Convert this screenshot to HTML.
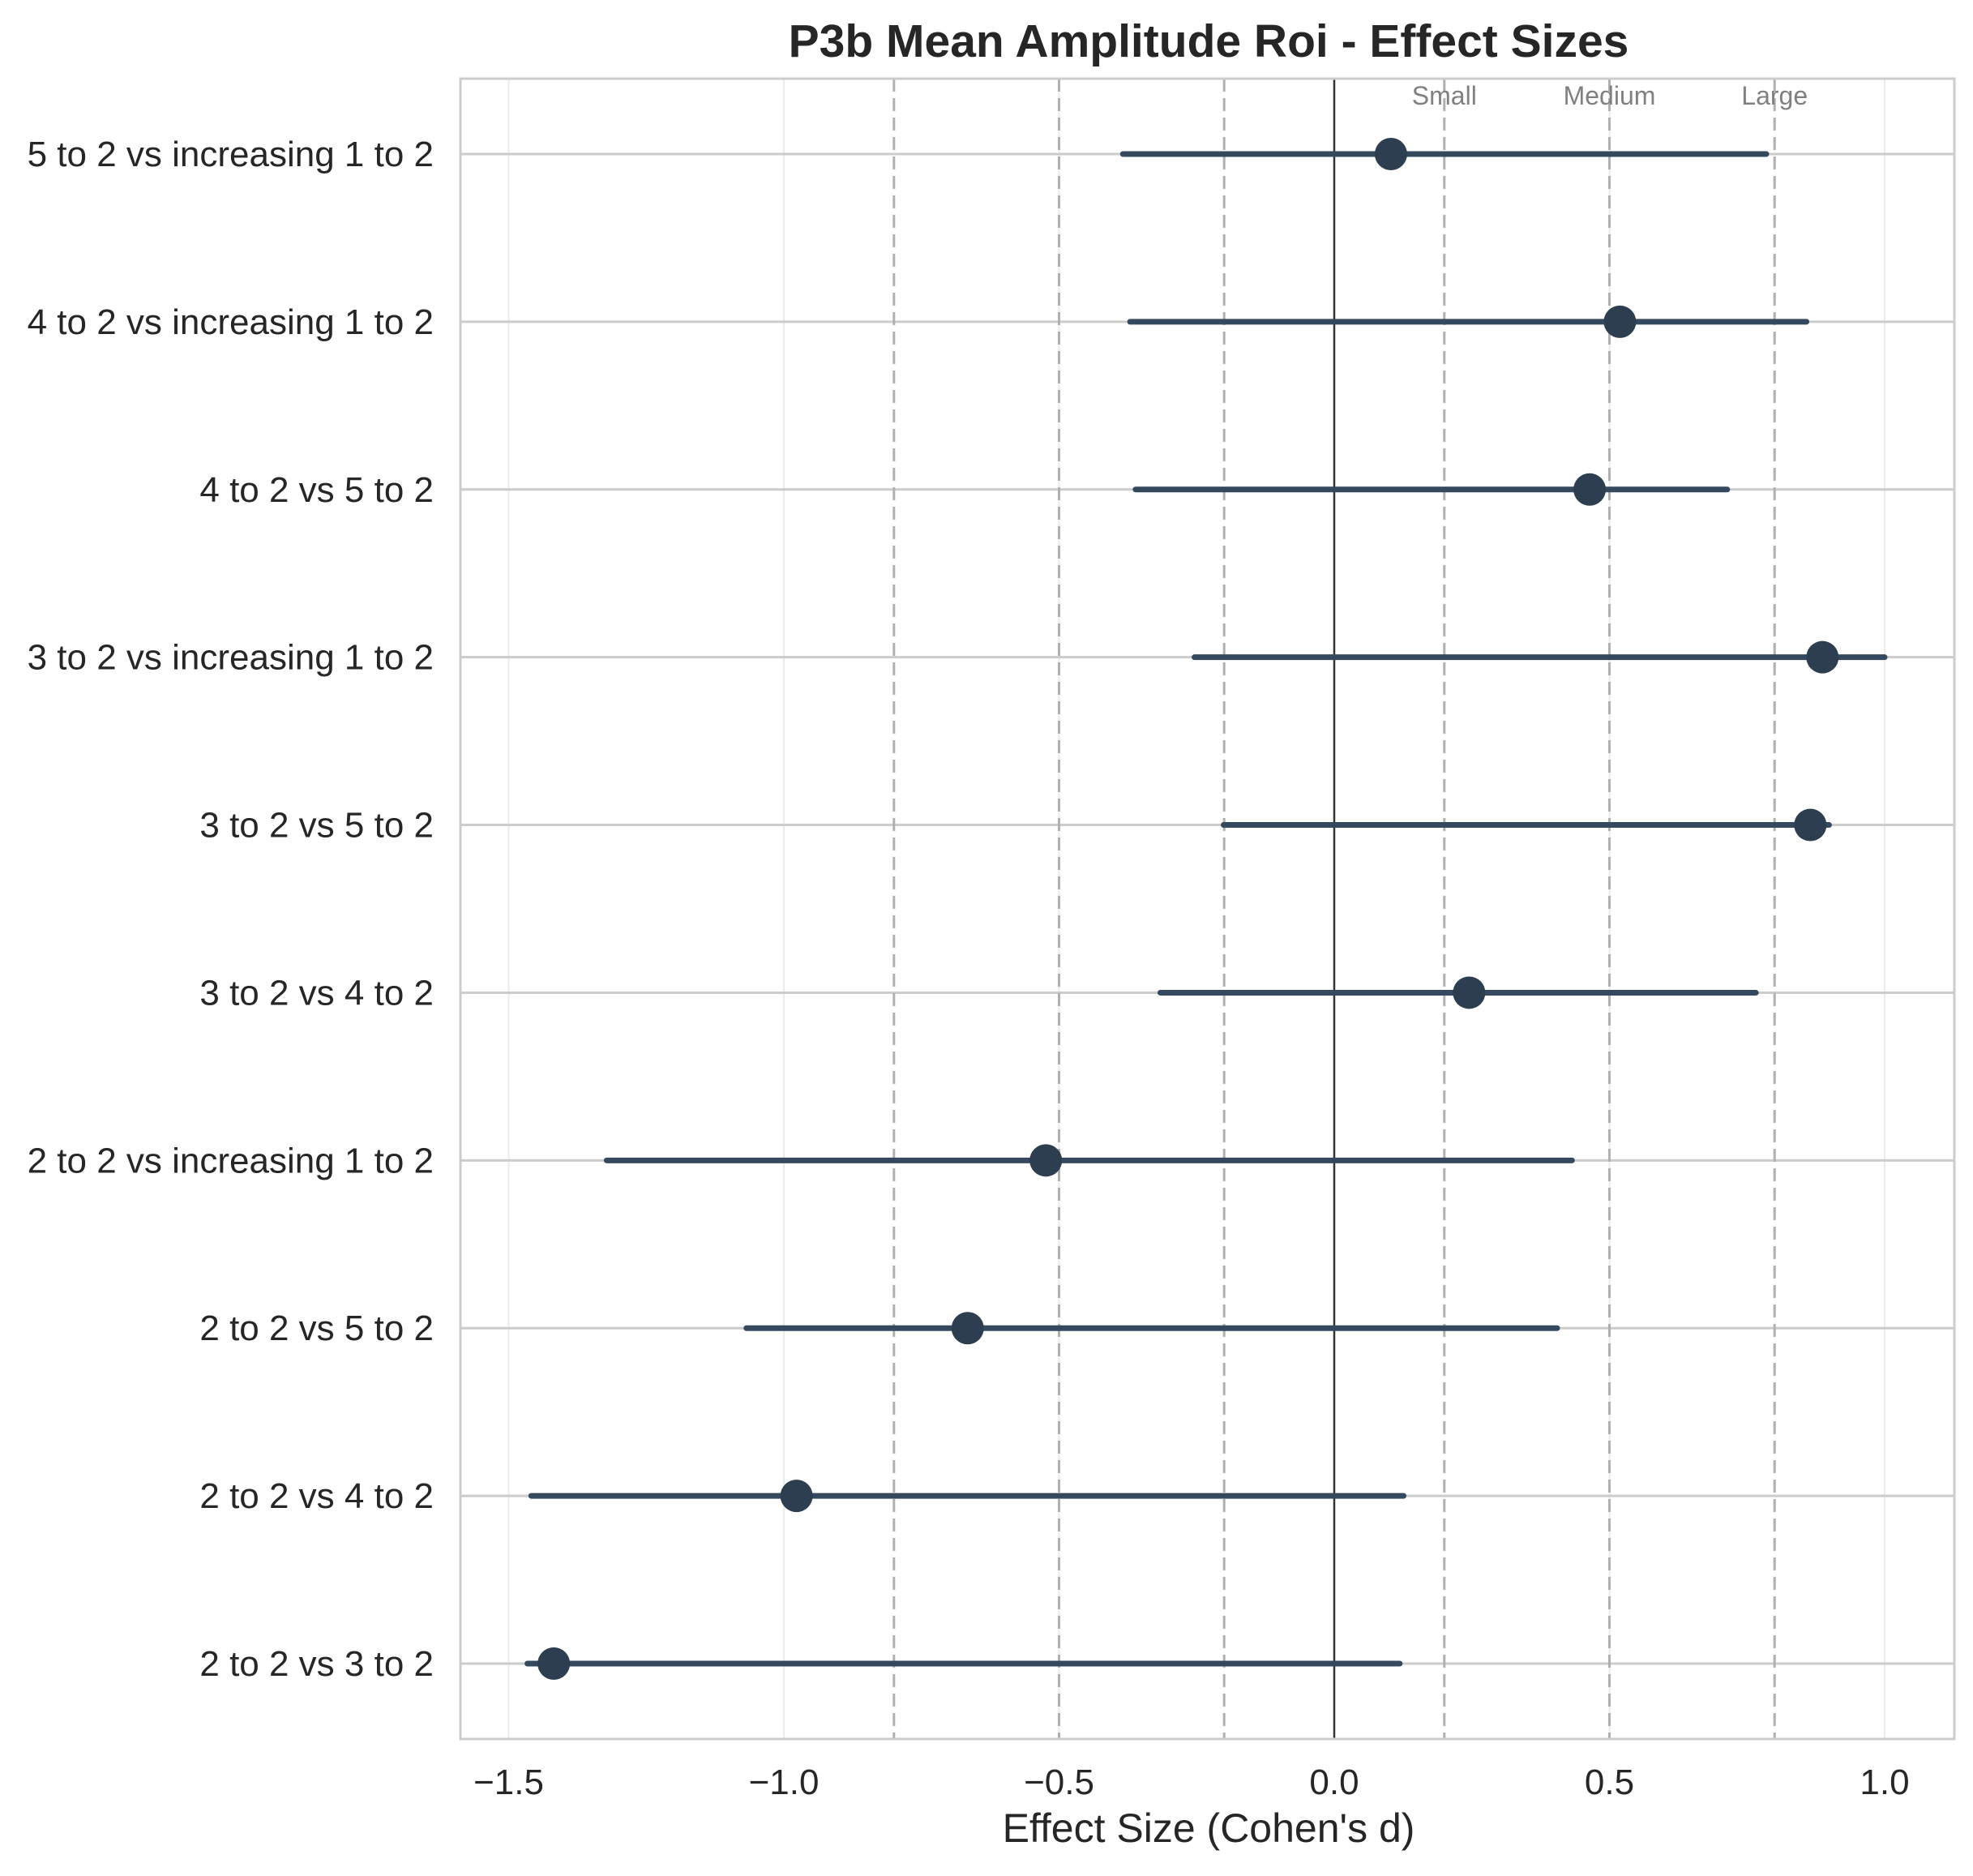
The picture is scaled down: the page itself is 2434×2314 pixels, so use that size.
<!DOCTYPE html>
<html><head><meta charset="utf-8"><style>
html,body{margin:0;padding:0;background:#fff;}
svg{display:block;font-family:"Liberation Sans",Arial,sans-serif;}
</style></head><body>
<svg id="chart" width="2434" height="2314" viewBox="0 0 2434 2314" xmlns="http://www.w3.org/2000/svg">
<rect width="2434" height="2314" fill="#fff"/>
<text x="1491" y="70" text-anchor="middle" font-size="57" font-weight="bold" fill="#262626">P3b Mean Amplitude Roi - Effect Sizes</text>
<g id="grid"></g>
<g id="marks"></g>
<rect x="568" y="97" width="1843" height="2048" fill="none" stroke="#cccccc" stroke-width="3"/>
<text x="1491" y="2272" text-anchor="middle" font-size="50" fill="#262626">Effect Size (Cohen's d)</text>
</svg>
<script>
const categories=["5 to 2 vs increasing 1 to 2","4 to 2 vs increasing 1 to 2","4 to 2 vs 5 to 2","3 to 2 vs increasing 1 to 2","3 to 2 vs 5 to 2","3 to 2 vs 4 to 2","2 to 2 vs increasing 1 to 2","2 to 2 vs 5 to 2","2 to 2 vs 4 to 2","2 to 2 vs 3 to 2"];
const effects=[0.103,0.519,0.464,0.887,0.865,0.245,-0.524,-0.666,-0.977,-1.418];
const ciLow=[-0.384,-0.371,-0.361,-0.254,-0.201,-0.316,-1.322,-1.068,-1.459,-1.466];
const ciHigh=[0.785,0.858,0.714,1.0,0.899,0.766,0.432,0.405,0.126,0.119];
const xTicks=[-1.5,-1.0,-0.5,0.0,0.5,1.0];
const xTickLabels=["\u22121.5","\u22121.0","\u22120.5","0.0","0.5","1.0"];
const thresholds=[-0.8,-0.5,-0.2,0.2,0.5,0.8];
const thresholdLabels=[["Small",0.2],["Medium",0.5],["Large",0.8]];

const NS="http://www.w3.org/2000/svg";
const X0=1646,XU=679,Y0=190,YS=(2052-190)/9;
function xs(v){return X0+v*XU;}
function ys(i){return Y0+i*YS;}
function mk(t,a,p){const e=document.createElementNS(NS,t);for(const k in a)e.setAttribute(k,a[k]);p.appendChild(e);return e;}
const svg=document.getElementById('chart');
const grid=document.getElementById('grid'),marks=document.getElementById('marks');
xTicks.forEach((v,i)=>{
  const l=mk('line',{x1:xs(v),x2:xs(v),y1:97,y2:2145,stroke:'#ebebeb','stroke-width':2},grid);
  
  
  const t=mk('text',{x:xs(v),y:2213,'text-anchor':'middle','font-size':44,fill:'#262626'},svg);
  t.textContent=xTickLabels[i];
  
  
});
categories.forEach((c,i)=>{
  const l=mk('line',{x1:568,x2:2411,y1:ys(i),y2:ys(i),stroke:'#cccccc','stroke-width':3},grid);
  
  
  const t=mk('text',{x:535,y:ys(i)+15,'text-anchor':'end','font-size':44,fill:'#262626'},svg);
  t.textContent=c;
  
  
});
thresholds.forEach(v=>{
  const l=mk('line',{x1:xs(v),x2:xs(v),y1:97,y2:2145,stroke:'#b0b0b0','stroke-width':3,'stroke-dasharray':'16,8'},grid);
  
  
});
thresholdLabels.forEach(([s,v])=>{
  const t=mk('text',{x:xs(v),y:129,'text-anchor':'middle','font-size':32,fill:'#808080'},svg);
  t.textContent=s;
  
  
});
const z=mk('line',{x1:xs(0),x2:xs(0),y1:97,y2:2145,stroke:'#333','stroke-width':2.5},grid);


categories.forEach((c,i)=>{
  const l=mk('line',{x1:xs(ciLow[i]),x2:xs(ciHigh[i]),y1:ys(i),y2:ys(i),stroke:'#34495e','stroke-width':7,'stroke-linecap':'round'},marks);
  
  
  const p=mk('circle',{cx:xs(effects[i]),cy:ys(i),r:20,fill:'#2c3e50'},marks);
  
  
});
</script>
</body></html>
